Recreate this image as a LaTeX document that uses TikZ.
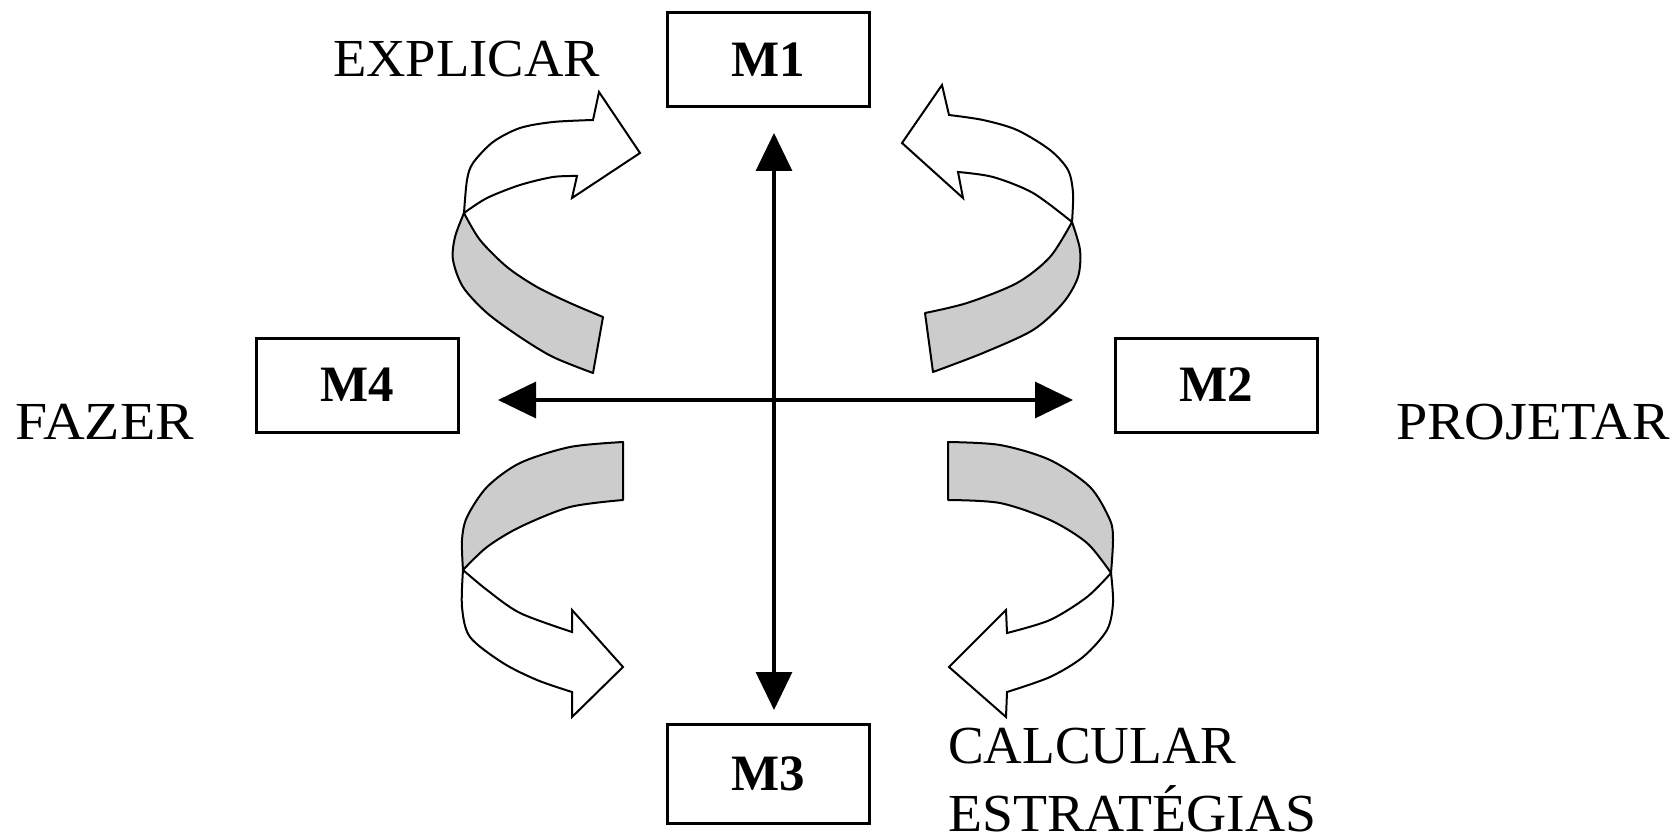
\documentclass[tikz,border=0pt]{standalone}
\usepackage{fontspec}
\setmainfont{Liberation Serif}
\usetikzlibrary{arrows.meta}
\tikzset{
  mbox/.style={draw, line width=3pt, minimum width=202pt, minimum height=94pt, inner sep=0pt,
    font=\bfseries\fontsize{51}{60}\selectfont},
  lbl/.style={inner sep=0pt, anchor=base west, font=\fontsize{53.5}{64}\selectfont, align=left, transform shape},
  axis/.style={line width=3.3pt, {Triangle[length=38pt,width=36pt]}-{Triangle[length=38pt,width=36pt]}},
  ribbon/.style={draw, line width=2pt, line join=round, fill=gray!40},
  headpart/.style={draw, line width=2pt, line join=miter, fill=white}
}
\begin{document}
\begin{tikzpicture}[x=1pt,y=-1pt]
\useasboundingbox (0,0) rectangle (1675,837);

% boxes
\node[mbox] (m1) at (768.5,59.5) {M1};
\node[mbox] (m2) at (1216.5,385) {M2};
\node[mbox, minimum height=99pt] (m3) at (768.5,774) {M3};
\node[mbox] (m4) at (357.5,385) {M4};

% labels
\node[lbl, xscale=1.02] (explicar) at (333,77) {EXPLICAR};
\node[lbl, xscale=1.08] (fazer) at (15,439) {FAZER};
\node[lbl, xscale=1.05] (projetar) at (1396,439) {PROJETAR};
\node[lbl] (calcular) at (948,763) {CALCULAR};
\node[lbl, xscale=1.04] (estrat) at (948,831) {ESTRATÉGIAS};

% axes
\coordinate (top) at (774,133);
\coordinate (bot) at (774,710);
\coordinate (lft) at (498,400);
\coordinate (rgt) at (1073,400);
\draw[axis] (bot) -- (top);
\draw[axis] (lft) -- (rgt);

% top-left curved arrow
\path[ribbon] plot[smooth] coordinates {(464,213) (455,237) (453,260) (463,287) (487,313) (520,337) (553,357) (593,373)}
  -- (603,317)
  -- plot[smooth] coordinates {(603,317) (570,303) (537,287) (507,267) (480,240) (464,213)} -- cycle;
\path[headpart] plot[smooth] coordinates {(464,213) (467,180) (473,163) (493,142) (520,128) (553,122) (593,120)}
  -- (599,92) -- (640,153) -- (572,198) -- (577,176)
  -- plot[smooth] coordinates {(577,176) (553,177) (520,185) (487,198) (464,213)} -- cycle;

% top-right curved arrow
\path[ribbon] plot[smooth] coordinates {(1072,222) (1080,250) (1078,277) (1063,303) (1033,330) (983,353) (933,372)}
  -- (925,313)
  -- plot[smooth] coordinates {(925,313) (967,303) (1017,283) (1050,257) (1072,222)} -- cycle;
\path[headpart] plot[smooth] coordinates {(1072,222) (1073,193) (1068,170) (1050,150) (1017,130) (983,120) (949,115)}
  -- (942,85) -- (902,143) -- (963,198) -- (958,172)
  -- plot[smooth] coordinates {(958,172) (993,177) (1033,193) (1072,222)} -- cycle;

% bottom-left curved arrow
\path[ribbon] plot[smooth] coordinates {(623,442) (570,447) (520,463) (487,487) (467,517) (462,540) (463,570)}
  -- plot[smooth] coordinates {(463,570) (487,547) (520,527) (570,507) (623,500)} -- cycle;
\path[headpart] plot[smooth] coordinates {(463,570) (462,607) (470,637) (503,663) (537,680) (572,692)}
  -- (572,717) -- (623,667) -- (572,610) -- (572,632)
  -- plot[smooth] coordinates {(572,632) (520,613) (487,590) (463,570)} -- cycle;

% bottom-right curved arrow
\path[ribbon] plot[smooth] coordinates {(948,442) (1000,445) (1050,460) (1090,487) (1110,520) (1113,540) (1111,573)}
  -- plot[smooth] coordinates {(1111,573) (1087,543) (1050,520) (1000,503) (948,500)} -- cycle;
\path[headpart] plot[smooth] coordinates {(1111,573) (1113,603) (1107,630) (1083,657) (1050,677) (1007,692)}
  -- (1006,717) -- (949,667) -- (1006,610) -- (1007,633)
  -- plot[smooth] coordinates {(1007,633) (1050,620) (1087,597) (1111,573)} -- cycle;
\end{tikzpicture}
\end{document}
